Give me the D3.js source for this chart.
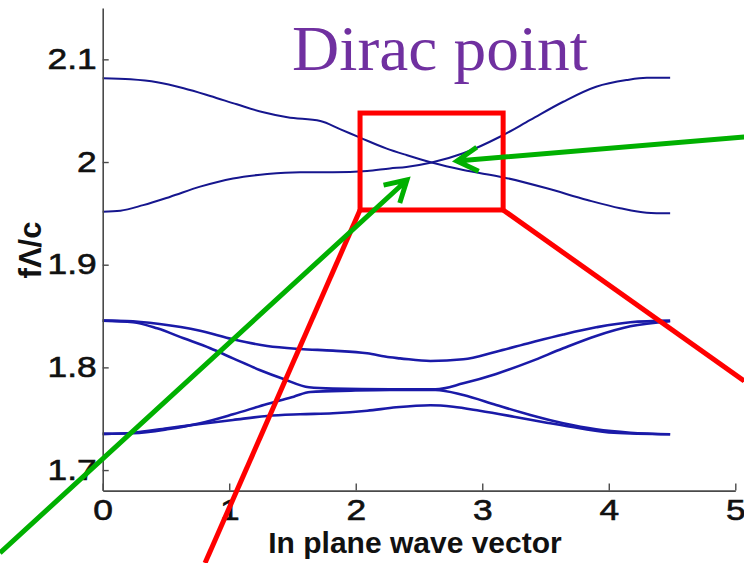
<!DOCTYPE html>
<html>
<head>
<meta charset="utf-8">
<script src="https://cdnjs.cloudflare.com/ajax/libs/d3/7.8.5/d3.min.js"></script>
<style>
  body { margin: 0; background: #fff; }
  svg { display: block; }
</style>
</head>
<body>
<svg id="chart" width="744" height="563"></svg>
<script>
// band structure, [wave vector, f*Lambda/c]
var band1 = [[0,2.0815],[0.22,2.0805],[0.43,2.0776],[0.64,2.0718],[0.85,2.0643],[1.06,2.0562],[1.27,2.0484],[1.46,2.0435],[1.72,2.040],[1.88,2.0318],[2.03,2.024],[2.24,2.0133],[2.40,2.0068],[2.60,1.9995],[2.85,1.9922],[3.17,1.985],[3.51,1.9744],[3.83,1.963],[4.09,1.955],[4.30,1.9507],[4.485,1.950]];
var band2 = [[0,1.9516],[0.14,1.9526],[0.32,1.958],[0.53,1.966],[0.77,1.976],[1.03,1.984],[1.30,1.9883],[1.56,1.990],[1.82,1.990],[2.09,1.9912],[2.27,1.9938],[2.40,1.9952],[2.60,1.9995],[2.85,2.0085],[3.14,2.0246],[3.38,2.041],[3.64,2.0587],[3.90,2.0733],[4.14,2.0798],[4.30,2.082],[4.485,2.082]];
var band3 = [[0,1.8455],[0.19,1.8452],[0.45,1.8423],[0.77,1.8357],[1.03,1.8274],[1.30,1.8208],[1.56,1.8179],[1.82,1.8163],[2.09,1.8137],[2.27,1.8098],[2.35,1.8088],[2.59,1.8062],[2.85,1.8079],[3.11,1.8153],[3.38,1.824],[3.64,1.832],[3.90,1.839],[4.17,1.844],[4.485,1.8455]];
var band4 = [[0,1.8455],[0.24,1.844],[0.43,1.838],[0.64,1.8283],[0.85,1.8186],[1.03,1.8088],[1.24,1.7975],[1.43,1.7887],[1.63,1.7806],[1.82,1.7793],[2.27,1.7787],[2.63,1.7787],[2.85,1.7845],[3.11,1.7936],[3.38,1.8056],[3.64,1.8186],[3.90,1.8306],[4.17,1.840],[4.485,1.845]];
var band5 = [[0,1.7352],[0.24,1.7358],[0.51,1.7397],[0.77,1.7456],[1.03,1.7543],[1.30,1.7644],[1.51,1.7715],[1.64,1.776],[1.96,1.7773],[2.27,1.778],[2.63,1.778],[2.85,1.7731],[3.11,1.7634],[3.38,1.7537],[3.64,1.7456],[3.90,1.7397],[4.17,1.7364],[4.485,1.7349]];
var band6 = [[0,1.7352],[0.24,1.7364],[0.51,1.7407],[0.77,1.7449],[1.03,1.7488],[1.30,1.7527],[1.56,1.7543],[1.82,1.7553],[2.09,1.7578],[2.32,1.7611],[2.59,1.7631],[2.77,1.7617],[2.98,1.7578],[3.25,1.752],[3.51,1.7461],[3.77,1.7407],[4.04,1.7364],[4.485,1.7349]];

var xTicks = [0, 1, 2, 3, 4, 5];
var yTicks = [1.7, 1.8, 1.9, 2, 2.1];
var yTickLabels = ['1.7', '1.8', '1.9', '2', '2.1'];

// annotations, in data units
var zoomBox = [[2.034, 2.0477], [3.165, 1.9533]];
var zoomLines = [[[2.034, 1.9533], [0.809, 1.6095]], [[3.165, 1.9533], [5.07, 1.7868]]];
var arrows = [[[5.07, 2.0243], [2.80, 2.0010]], [[-0.812, 1.6193], [2.405, 1.9825]]];

var svg = d3.select('#chart');
svg.append('rect').attr('width', 744).attr('height', 563).attr('fill', '#fff');

var x = d3.scaleLinear().domain([0, 5]).range([102.7, 735.3]);
var y = d3.scaleLinear().domain([1.68, 2.15]).range([490.6, 8]);

var line = d3.line()
    .x(function(d){ return x(d[0]); })
    .y(function(d){ return y(d[1]); })
    .curve(d3.curveMonotoneX);

svg.selectAll('path.band')
    .data([band1, band2, band3, band4, band5, band6])
    .enter()
    .append('path')
    .attr('class', 'band')
    .attr('d', line)
    .attr('fill', 'none')
    .attr('stroke', function(d, i){ return i < 2 ? '#16168e' : '#1a1aa8'; })
    .attr('stroke-width', function(d, i){ return i < 2 ? 2 : 2.6; });

// axes
var xAxis = svg.append('g')
    .attr('transform', 'translate(0,' + y(1.68) + ')')
    .call(d3.axisBottom(x).tickValues(xTicks).tickFormat(d3.format('d'))
        .tickSizeInner(-7).tickSizeOuter(0).tickPadding(9));

var yAxis = svg.append('g')
    .attr('transform', 'translate(' + x(0) + ',0)')
    .call(d3.axisLeft(y).tickValues(yTicks)
        .tickFormat(function(d, i){ return yTickLabels[i]; })
        .tickSizeInner(-6).tickSizeOuter(0).tickPadding(6));

[xAxis, yAxis].forEach(function(g){
    g.select('.domain').attr('stroke', '#4a4a4a').attr('stroke-width', 1.6);
    g.selectAll('.tick line').attr('stroke', '#4a4a4a').attr('stroke-width', 1.4);
    g.selectAll('.tick text')
        .attr('fill', '#111')
        .attr('stroke', '#111')
        .attr('stroke-width', 0.6)
        .style('font-family', '"Liberation Sans", Arial, sans-serif')
        .style('font-size', '29px');
});
xAxis.selectAll('.tick text').attr('dy', '0.71em')
    .attr('transform', 'scale(1.22,1)')
    .attr('x', 0);
yAxis.selectAll('.tick text')
    .attr('x', 0)
    .attr('transform', 'translate(-6,0) scale(1.22,1)');

svg.append('text')
    .attr('x', 415).attr('y', 553)
    .attr('text-anchor', 'middle')
    .style('font-family', '"Liberation Sans", Arial, sans-serif')
    .style('font-size', '30px')
    .style('font-weight', 'bold')
    .attr('fill', '#111')
    .text('In plane wave vector');

svg.append('text')
    .attr('transform', 'translate(41,250) rotate(-90)')
    .attr('text-anchor', 'middle')
    .style('font-family', '"Liberation Sans", Arial, sans-serif')
    .style('font-size', '31px')
    .style('font-weight', 'bold')
    .attr('fill', '#111')
    .text('f\u039B/c');

svg.append('text')
    .attr('x', 292).attr('y', 70)
    .attr('textLength', 296)
    .attr('lengthAdjust', 'spacingAndGlyphs')
    .style('font-family', '"Liberation Serif", "DejaVu Serif", serif')
    .style('font-size', '63px')
    .attr('fill', '#7030a0')
    .text('Dirac point');

// red zoom box + lines
svg.append('rect')
    .attr('x', x(zoomBox[0][0])).attr('y', y(zoomBox[0][1]))
    .attr('width', x(zoomBox[1][0]) - x(zoomBox[0][0]))
    .attr('height', y(zoomBox[1][1]) - y(zoomBox[0][1]))
    .attr('fill', 'none')
    .attr('stroke', '#ff0000')
    .attr('stroke-width', 5);

svg.selectAll('line.zoom')
    .data(zoomLines)
    .enter()
    .append('line')
    .attr('class', 'zoom')
    .attr('x1', function(d){ return x(d[0][0]); })
    .attr('y1', function(d){ return y(d[0][1]); })
    .attr('x2', function(d){ return x(d[1][0]); })
    .attr('y2', function(d){ return y(d[1][1]); })
    .attr('stroke', '#ff0000')
    .attr('stroke-width', 5);

// green arrows with open heads
var arrowG = svg.selectAll('g.arrow')
    .data(arrows)
    .enter()
    .append('g')
    .attr('class', 'arrow');

arrowG.append('path')
    .attr('d', function(d){
        var x0 = x(d[0][0]), y0 = y(d[0][1]), x1 = x(d[1][0]), y1 = y(d[1][1]);
        var a = Math.atan2(y0 - y1, x0 - x1), len = 24, spread = Math.PI / 6;
        return 'M' + x0 + ',' + y0 + 'L' + x1 + ',' + y1 +
            'M' + (x1 + len * Math.cos(a - spread)) + ',' + (y1 + len * Math.sin(a - spread)) +
            'L' + x1 + ',' + y1 +
            'L' + (x1 + len * Math.cos(a + spread)) + ',' + (y1 + len * Math.sin(a + spread));
    })
    .attr('fill', 'none')
    .attr('stroke', '#00b000')
    .attr('stroke-width', 5)
    .attr('stroke-linecap', 'butt')
    .attr('stroke-linejoin', 'miter');
</script>
</body>
</html>
